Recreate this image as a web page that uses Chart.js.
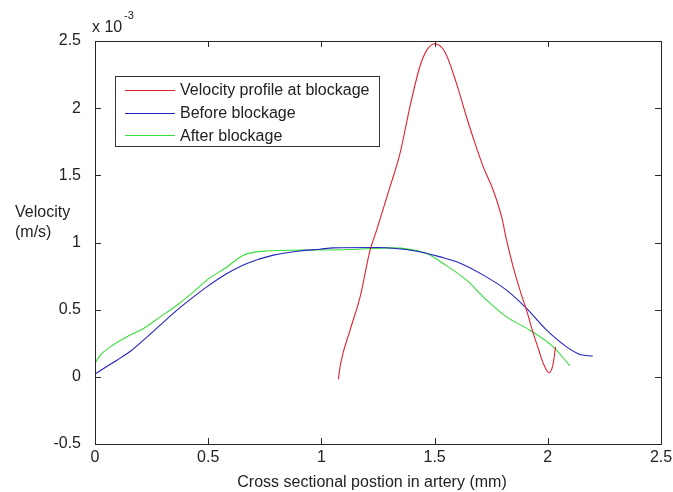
<!DOCTYPE html>
<html>
<head>
<meta charset="utf-8">
<script src="https://cdn.jsdelivr.net/npm/chart.js@4"></script>
<style>
  html, body { margin: 0; padding: 0; background: #fff; }
  #wrap { width: 673px; height: 492px; }
</style>
</head>
<body>
<div id="wrap"><canvas id="velocity"></canvas></div>
<script>
// velocities are in units of 1e-3 m/s
const atX = [1.075, 1.085, 1.127, 1.171, 1.215, 1.244, 1.303, 1.347, 1.391, 1.435, 1.465, 1.50, 1.545, 1.597, 1.640, 1.674, 1.715, 1.759, 1.796, 1.818, 1.847, 1.877, 1.906, 1.936, 1.96, 1.98, 2.006, 2.024, 2.034];
const atY = [-0.017, 0.10, 0.35, 0.595, 0.943, 1.092, 1.414, 1.662, 2.01, 2.31, 2.43, 2.48, 2.42, 2.183, 1.94, 1.761, 1.563, 1.389, 1.19, 1.017, 0.818, 0.645, 0.496, 0.323, 0.2, 0.10, 0.03, 0.10, 0.223];

const beforeX = [0, 0.038, 0.097, 0.156, 0.214, 0.288, 0.362, 0.435, 0.494, 0.583, 0.671, 0.788, 0.906, 0.994, 1.053, 1.244, 1.421, 1.524, 1.597, 1.715, 1.818, 1.906, 1.995, 2.083, 2.142, 2.198];
const beforeY = [0.02, 0.062, 0.124, 0.19, 0.273, 0.385, 0.496, 0.595, 0.67, 0.769, 0.844, 0.906, 0.937, 0.95, 0.96, 0.963, 0.935, 0.893, 0.856, 0.757, 0.645, 0.509, 0.347, 0.223, 0.167, 0.154];

const afterX = [0, 0.023, 0.068, 0.141, 0.214, 0.288, 0.362, 0.435, 0.494, 0.583, 0.656, 0.759, 0.906, 1.127, 1.303, 1.465, 1.538, 1.641, 1.73, 1.818, 1.921, 2.024, 2.098];
const afterY = [0.10, 0.161, 0.223, 0.298, 0.36, 0.446, 0.533, 0.632, 0.72, 0.818, 0.906, 0.937, 0.943, 0.948, 0.96, 0.918, 0.844, 0.72, 0.571, 0.446, 0.347, 0.223, 0.082];

const xTicks = [0, 0.5, 1, 1.5, 2, 2.5];
const yTicks = [-0.5, 0, 0.5, 1, 1.5, 2, 2.5];

const FONT = '"Liberation Sans", Arial, sans-serif';

function pts(xs, ys) {
  return xs.map((x, i) => ({ x: x, y: ys[i] }));
}

// box, inward tick marks, legend and the extra labels
const frame = {
  id: 'frame',
  afterDatasetsDraw(chart) {
    const ctx = chart.ctx;
    const a = chart.chartArea;
    const sx = chart.scales.x, sy = chart.scales.y;
    ctx.save();
    ctx.strokeStyle = '#262626';
    ctx.lineWidth = 1;
    ctx.strokeRect(a.left + 0.5, a.top + 0.5, a.right - a.left, a.bottom - a.top);
    ctx.beginPath();
    const t = 6;
    xTicks.forEach(v => {
      const p = Math.round(sx.getPixelForValue(v)) + 0.5;
      ctx.moveTo(p, a.bottom); ctx.lineTo(p, a.bottom - t);
      ctx.moveTo(p, a.top); ctx.lineTo(p, a.top + t);
    });
    yTicks.forEach(v => {
      const p = Math.round(sy.getPixelForValue(v)) + 0.5;
      ctx.moveTo(a.left, p); ctx.lineTo(a.left + t, p);
      ctx.moveTo(a.right, p); ctx.lineTo(a.right - t, p);
    });
    ctx.stroke();

    // legend
    const lx = 115, ly = 76, lw = 264, lh = 70;
    ctx.fillStyle = '#fff';
    ctx.fillRect(lx, ly, lw, lh);
    ctx.strokeStyle = '#333';
    ctx.strokeRect(lx + 0.5, ly + 0.5, lw, lh);
    ctx.font = '16px ' + FONT;
    ctx.textBaseline = 'middle';
    ctx.textAlign = 'left';
    chart.data.datasets.forEach((ds, i) => {
      const y = ly + 14 + i * 22.7;
      ctx.strokeStyle = ds.borderColor;
      ctx.beginPath();
      ctx.moveTo(125, Math.round(y) + 0.5); ctx.lineTo(175, Math.round(y) + 0.5);
      ctx.stroke();
      ctx.fillStyle = '#222';
      ctx.fillText(ds.label, 180, y + 1);
    });

    // axis titles and exponent
    ctx.fillStyle = '#222';
    ctx.fillText('Velocity', 15, 213);
    ctx.fillText('(m/s)', 15, 233);
    ctx.textAlign = 'center';
    ctx.fillText('Cross sectional postion in artery (mm)', 372, 483);
    ctx.textAlign = 'left';
    ctx.fillText('x 10', 92, 28);
    ctx.font = '11px ' + FONT;
    ctx.fillText('-3', 124, 16);
    ctx.restore();
  }
};

new Chart(document.getElementById('velocity'), {
  type: 'scatter',
  data: {
    datasets: [
      { label: 'Velocity profile at blockage', data: pts(atX, atY), borderColor: '#e0202f' },
      { label: 'Before blockage', data: pts(beforeX, beforeY), borderColor: '#2222c0' },
      { label: 'After blockage', data: pts(afterX, afterY), borderColor: '#38de38' }
    ]
  },
  options: {
    responsive: true,
    maintainAspectRatio: false,
    animation: false,
    showLine: true,
    elements: {
      point: { radius: 0 },
      line: { borderWidth: 1.1, cubicInterpolationMode: 'monotone' }
    },
    layout: { padding: { top: 41, right: 12, left: 0, bottom: 0 } },
    plugins: { legend: { display: false }, tooltip: { enabled: false } },
    scales: {
      x: {
        type: 'linear', min: 0, max: 2.5,
        afterBuildTicks: s => { s.ticks = xTicks.map(v => ({ value: v })); },
        afterFit: s => { s.height = 48; },
        grid: { display: false },
        border: { display: false },
        ticks: { color: '#222', padding: -4, maxRotation: 0, font: { family: FONT, size: 16 }, callback: v => String(v) }
      },
      y: {
        type: 'linear', min: -0.5, max: 2.5,
        afterBuildTicks: s => { s.ticks = yTicks.map(v => ({ value: v })); },
        afterFit: s => { s.width = 95; },
        grid: { display: false },
        border: { display: false },
        ticks: { color: '#222', padding: 6, font: { family: FONT, size: 16 }, callback: v => String(v) }
      }
    }
  },
  plugins: [frame]
});
</script>
</body>
</html>
